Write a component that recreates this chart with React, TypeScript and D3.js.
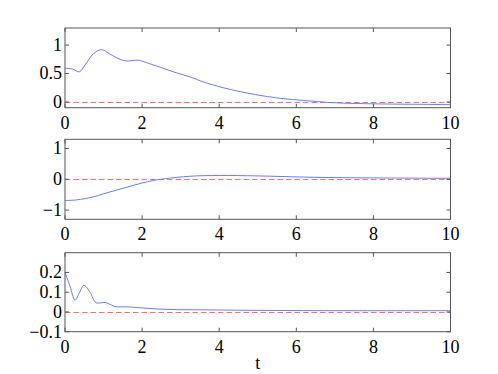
import React from "react";
import * as d3 from "d3";

const width = 498;
const height = 374;
const left = 65;
const right = 450.5;
const font = "'Liberation Serif', 'DejaVu Serif', serif";

// panel 1
const t1 = [0, 0.2, 0.37, 0.52, 0.74, 0.95, 1.17, 1.43, 1.6, 1.9, 2.12, 2.47, 2.9, 3.25, 3.64, 4.29, 4.94, 5.58, 6.23, 6.88, 7.5, 8, 9, 10];
const y1 = [0.594, 0.578, 0.53, 0.65, 0.85, 0.92, 0.84, 0.75, 0.72, 0.735, 0.69, 0.61, 0.51, 0.44, 0.34, 0.22, 0.13, 0.065, 0.025, -0.01, -0.025, -0.032, -0.04, -0.045];
const ticks1 = [0, 0.5, 1];

// panel 2
const t2 = [0, 0.3, 0.74, 1.0, 1.34, 1.6, 2.0, 2.29, 2.6, 3.25, 4, 5, 6.45, 8, 10];
const y2 = [-0.69, -0.67, -0.57, -0.47, -0.35, -0.26, -0.12, -0.04, 0.02, 0.1, 0.125, 0.11, 0.065, 0.045, 0.032];
const ticks2 = [-1, 0, 1];

// panel 3
const t3 = [0, 0.13, 0.26, 0.38, 0.49, 0.65, 0.8, 0.92, 1.04, 1.21, 1.3, 1.6, 2.16, 2.64, 3.94, 5, 7, 10];
const y3 = [0.2, 0.13, 0.06, 0.1, 0.135, 0.1, 0.047, 0.046, 0.048, 0.035, 0.027, 0.026, 0.018, 0.013, 0.01, 0.008, 0.0065, 0.0065];
const ticks3 = [-0.1, 0, 0.1, 0.2];

const xTicks = [0, 2, 4, 6, 8, 10];

const panels = [
  { t: t1, y: y1, ticks: ticks1, domain: [-0.1, 1.3], top: 28, bottom: 107.7 },
  { t: t2, y: y2, ticks: ticks2, domain: [-1.3, 1.3], top: 139.3, bottom: 219.3 },
  { t: t3, y: y3, ticks: ticks3, domain: [-0.1, 0.3], top: 252.7, bottom: 331.7 },
];

const x = d3.scaleLinear().domain([0, 10]).range([left, right]);

const fmt = (v: number) => (v < 0 ? "\u2212" + String(-v) : String(v));

const Panel = ({ p }: { p: (typeof panels)[number] }) => {
  const y = d3.scaleLinear().domain(p.domain).range([p.bottom, p.top]);
  const line = d3
    .line<number>()
    .x((_, i) => x(p.t[i]))
    .y((d) => y(d))
    .curve(d3.curveCatmullRom);
  const tl = 4;
  const zeroY = Math.round(y(0)) + 0.5;
  return (
    <g>
      <line x1={x(0)} x2={x(10)} y1={zeroY} y2={zeroY} stroke="#ff7070" strokeWidth={1} strokeDasharray="5.5,3" />
      <path d={line(p.y) ?? ""} fill="none" stroke="#6a7bff" strokeWidth={1} />
      <rect x={left} y={p.top} width={right - left} height={p.bottom - p.top} fill="none" stroke="#555" strokeWidth={1} />
      {xTicks.map((v) => (
        <g key={v}>
          <line x1={x(v)} x2={x(v)} y1={p.bottom} y2={p.bottom - tl} stroke="#555" />
          <line x1={x(v)} x2={x(v)} y1={p.top} y2={p.top + tl} stroke="#555" />
          <text x={x(v)} y={p.bottom + 21} textAnchor="middle" fontSize={18} fontFamily={font}>
            {v}
          </text>
        </g>
      ))}
      {p.ticks.map((v) => (
        <g key={v}>
          <line x1={left} x2={left + tl} y1={y(v)} y2={y(v)} stroke="#555" />
          <line x1={right} x2={right - tl} y1={y(v)} y2={y(v)} stroke="#555" />
          <text x={62} y={y(v)} dy="0.33em" textAnchor="end" fontSize={18} fontFamily={font}>
            {fmt(v)}
          </text>
        </g>
      ))}
    </g>
  );
};

export default function App() {
  return (
    <div style={{ position: "fixed", left: 0, top: 0 }}>
      <svg width={width} height={height} style={{ display: "block", background: "#fff" }}>
        {panels.map((p, i) => (
          <Panel key={i} p={p} />
        ))}
        <text x={(left + right) / 2} y={369} textAnchor="middle" fontSize={18} fontFamily={font}>
          t
        </text>
      </svg>
    </div>
  );
}
